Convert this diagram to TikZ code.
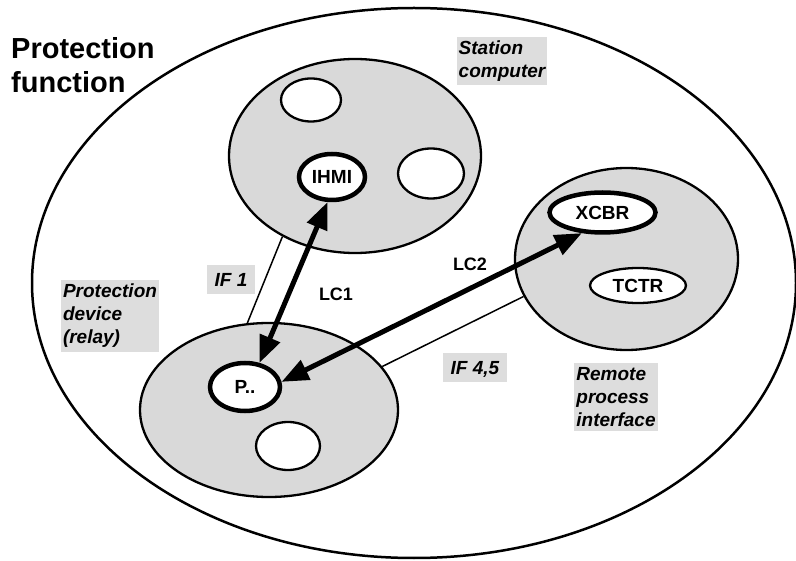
\documentclass[tikz,border=0pt]{standalone}
\usepackage{fontspec}
\setmainfont{Liberation Sans}
\usetikzlibrary{shapes.geometric,arrows.meta}
\definecolor{zonefill}{RGB}{217,217,217}
\definecolor{tagfill}{RGB}{221,221,221}
\begin{document}
\begin{tikzpicture}[x=1pt,y=-1pt,
  zone/.style={ellipse, draw, line width=2.3pt, fill=zonefill, inner sep=0pt},
  ln/.style={ellipse, draw, line width=2.3pt, fill=white, inner sep=0pt,
    font=\fontsize{19}{21}\selectfont\bfseries},
  lnmain/.style={ln, line width=4.5pt},
  tag/.style={fill=tagfill, align=left, inner xsep=2pt, inner ysep=4pt,
    font=\fontsize{19}{23}\selectfont\bfseries\itshape},
  iftag/.style={fill=tagfill, inner xsep=7.5pt, inner ysep=7pt,
    text height=14pt, text depth=1pt,
    font=\fontsize{19}{23}\selectfont\bfseries\itshape},
  lclabel/.style={font=\fontsize{18}{20}\selectfont\bfseries},
  link/.style={line width=5pt,
    {Triangle[length=27pt,width=21pt]}-{Triangle[length=27pt,width=21pt]}},
  iface/.style={line width=1.5pt}
]
\useasboundingbox (0,0) rectangle (796,561);

% whole function
\node[ellipse, draw, line width=2.5pt, minimum width=764pt,
  minimum height=550pt] (func) at (414,283) {};

% physical devices
\node[zone, minimum width=252pt, minimum height=194pt] (station) at (355,156) {};
\node[zone, minimum width=258pt, minimum height=174pt] (relay) at (269,410) {};
\node[zone, minimum width=223pt, minimum height=182pt] (remote) at (626.5,259) {};

% logical nodes
\node[ln, minimum width=60pt, minimum height=43pt] (st1) at (311,100) {};
\node[lnmain, minimum width=66pt, minimum height=46pt] (ihmi) at (332,177) {IHMI};
\node[ln, minimum width=66pt, minimum height=50pt] (st2) at (431,173.5) {};
\node[lnmain, minimum width=70pt, minimum height=48pt] (p) at (245,387) {P..};
\node[ln, minimum width=64pt, minimum height=48pt] (rl1) at (288,446) {};
\node[lnmain, minimum width=106pt, minimum height=40pt] (xcbr) at (602.5,212.5) {XCBR};
\node[ln, minimum width=96pt, minimum height=35pt] (tctr) at (638,285.5) {TCTR};

% interfaces between devices
\draw[iface] (station.228) -- (relay.104);
\draw[iface] (relay.21.5) -- (remote.200.9);

% logical connections
\draw[link] (p.59) -- (ihmi.260);
\draw[link] (p.8) -- (xcbr.225);

% labels
\node[anchor=north west, inner sep=0pt, align=left,
  font=\fontsize{29}{34}\selectfont\bfseries] (title) at (11,37)
  {Protection\\function};
\node[tag] (tstation) at (502,61) {Station\\computer};
\node[tag] (trelay) at (110,316) {Protection\\device\\(relay)};
\node[tag] (tremote) at (616,397) {Remote\\process\\interface};
\node[iftag] (if1) at (231,280) {IF 1};
\node[iftag] (if45) at (475,368) {IF 4,5};
\node[lclabel] (lc1) at (336,294) {LC1};
\node[lclabel] (lc2) at (470,264) {LC2};
\end{tikzpicture}
\end{document}
